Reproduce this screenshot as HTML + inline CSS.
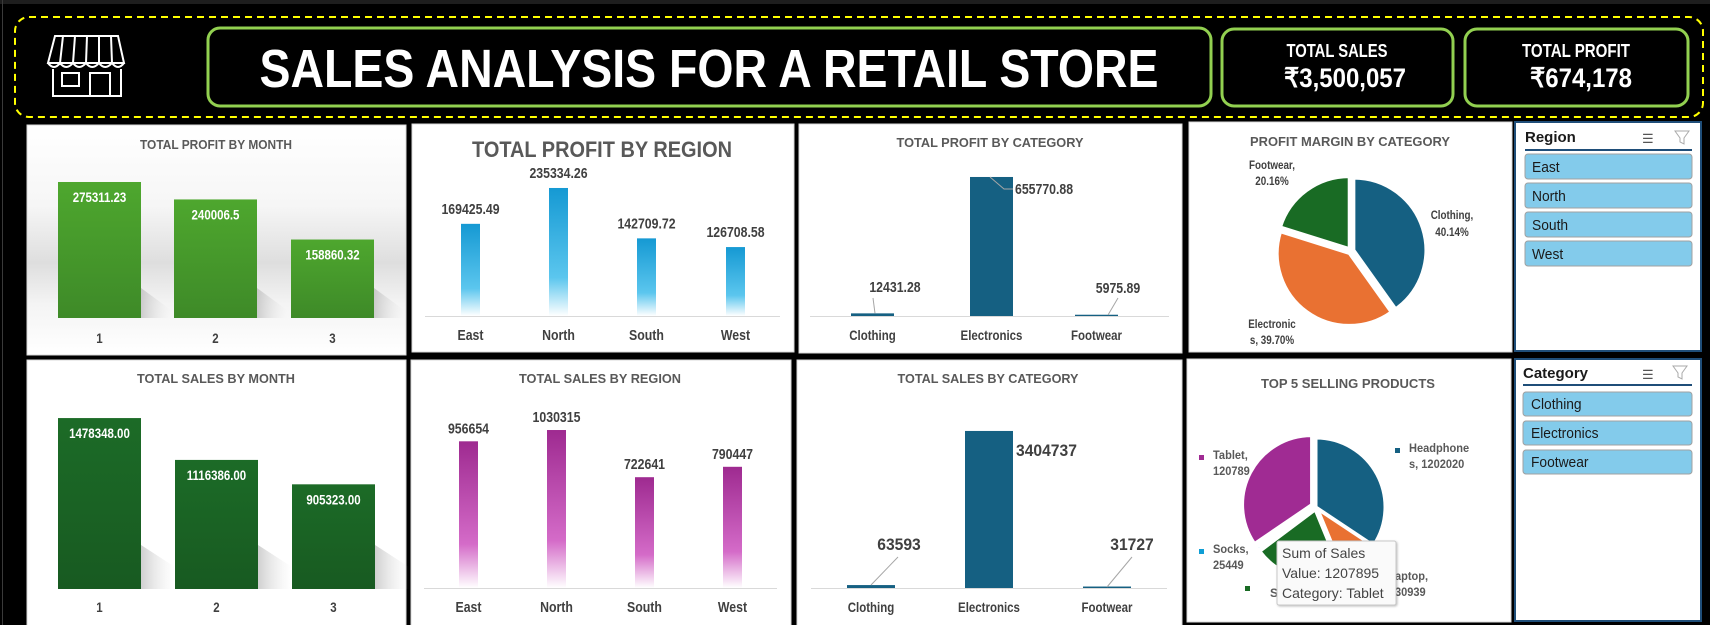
<!DOCTYPE html>
<html><head><meta charset="utf-8"><style>
html,body{margin:0;padding:0;background:#000;width:1710px;height:625px;overflow:hidden}
svg{display:block}
text{font-family:"Liberation Sans Narrow","Liberation Sans",sans-serif}
</style></head><body>
<svg id="root" width="1710" height="625" viewBox="0 0 1710 625" xmlns="http://www.w3.org/2000/svg">
<defs>
<linearGradient id="gBgMonth" x1="0" y1="0" x2="0" y2="1"><stop offset="0" stop-color="#fff"/><stop offset="0.35" stop-color="#f6f6f6"/><stop offset="0.6" stop-color="#dedede"/><stop offset="0.78" stop-color="#f4f4f4"/><stop offset="1" stop-color="#fff"/></linearGradient>
<linearGradient id="gGreen" x1="0" y1="0" x2="0" y2="1"><stop offset="0" stop-color="#4EA72E"/><stop offset="1" stop-color="#3E8A28"/></linearGradient>
<linearGradient id="gDkGreen" x1="0" y1="0" x2="0" y2="1"><stop offset="0" stop-color="#1C6B27"/><stop offset="1" stop-color="#185A21"/></linearGradient>
<linearGradient id="gBlue" x1="0" y1="0" x2="0" y2="1"><stop offset="0" stop-color="#1599D3"/><stop offset="0.7" stop-color="#5BC6EE"/><stop offset="1" stop-color="#ffffff"/></linearGradient>
<linearGradient id="gPurple" x1="0" y1="0" x2="0" y2="1"><stop offset="0" stop-color="#9E2A90"/><stop offset="0.7" stop-color="#D46BC8"/><stop offset="1" stop-color="#ffffff"/></linearGradient>
<linearGradient id="gShadow" x1="0" y1="0" x2="1" y2="0"><stop offset="0" stop-color="#b0b0b0" stop-opacity="0.6"/><stop offset="1" stop-color="#e0e0e0" stop-opacity="0"/></linearGradient>
</defs>
<rect x="0" y="0" width="1710" height="4" fill="#1e1e1e"/>
<rect x="2" y="0" width="1" height="625" fill="#3a3a3a"/>
<rect x="15" y="17" width="1688" height="100" rx="14" fill="none" stroke="#FFFF00" stroke-width="2" stroke-dasharray="7,5"/>
<g fill="none" stroke="#fff" stroke-width="2">
<path d="M55 36 H118 L124 63 H48 Z"/>
<path d="M48 63 q6 8 12 0 q6 8 13 0 q6 8 13 0 q6 8 13 0 q6 8 13 0 q6 8 12 0"/>
<path d="M63 36 L60 63 M75 36 L73 63 M87 36 L86 63 M99 36 L99 63 M111 36 L112 63"/>
<path d="M53 69 V96 H121 V69"/>
<rect x="62" y="73" width="17" height="13"/>
<rect x="90" y="73" width="20" height="23"/>
</g>
<rect x="208" y="28" width="1003" height="78" rx="12" fill="#000" stroke="#92D050" stroke-width="3"/>
<text x="709" y="87" text-anchor="middle" font-size="54" font-weight="bold" fill="#fff" textLength="899" lengthAdjust="spacingAndGlyphs">SALES ANALYSIS FOR A RETAIL STORE</text>
<rect x="1222" y="29" width="231" height="77" rx="12" fill="#000" stroke="#92D050" stroke-width="3"/>
<text x="1337" y="57" text-anchor="middle" font-size="18" font-weight="bold" fill="#fff" textLength="101" lengthAdjust="spacingAndGlyphs">TOTAL SALES</text>
<text x="1345" y="87" text-anchor="middle" font-size="27" font-weight="bold" fill="#fff" textLength="122" lengthAdjust="spacingAndGlyphs">₹3,500,057</text>
<rect x="1465" y="29" width="223" height="77" rx="12" fill="#000" stroke="#92D050" stroke-width="3"/>
<text x="1576" y="57" text-anchor="middle" font-size="18" font-weight="bold" fill="#fff" textLength="108" lengthAdjust="spacingAndGlyphs">TOTAL PROFIT</text>
<text x="1581" y="87" text-anchor="middle" font-size="27" font-weight="bold" fill="#fff" textLength="102" lengthAdjust="spacingAndGlyphs">₹674,178</text>
<rect x="27" y="125" width="379" height="230" fill="url(#gBgMonth)" stroke="#d9d9d9"/>
<rect x="412" y="124" width="382" height="228" fill="#fff" stroke="#d9d9d9"/>
<rect x="799" y="124" width="383" height="229" fill="#fff" stroke="#d9d9d9"/>
<rect x="1189" y="122" width="323" height="230" fill="#fff" stroke="#d9d9d9"/>
<rect x="27" y="360" width="379" height="270" fill="#fff" stroke="#d9d9d9"/>
<rect x="411" y="360" width="380" height="270" fill="#fff" stroke="#d9d9d9"/>
<rect x="797" y="360" width="385" height="270" fill="#fff" stroke="#d9d9d9"/>
<rect x="1187" y="359" width="324" height="263" fill="#fff" stroke="#d9d9d9"/>
<text x="216" y="149" text-anchor="middle" font-size="13" font-weight="bold" fill="#595959" textLength="152" lengthAdjust="spacingAndGlyphs">TOTAL PROFIT BY MONTH</text>
<text x="602" y="157" text-anchor="middle" font-size="22" font-weight="bold" fill="#595959" textLength="260" lengthAdjust="spacingAndGlyphs">TOTAL PROFIT BY REGION</text>
<text x="990" y="147" text-anchor="middle" font-size="13" font-weight="bold" fill="#595959" textLength="187" lengthAdjust="spacingAndGlyphs">TOTAL PROFIT BY CATEGORY</text>
<text x="1350" y="146" text-anchor="middle" font-size="13" font-weight="bold" fill="#595959" textLength="200" lengthAdjust="spacingAndGlyphs">PROFIT MARGIN BY CATEGORY</text>
<text x="216" y="383" text-anchor="middle" font-size="13" font-weight="bold" fill="#595959" textLength="158" lengthAdjust="spacingAndGlyphs">TOTAL SALES BY MONTH</text>
<text x="600" y="383" text-anchor="middle" font-size="13" font-weight="bold" fill="#595959" textLength="162" lengthAdjust="spacingAndGlyphs">TOTAL SALES BY REGION</text>
<text x="988" y="383" text-anchor="middle" font-size="13" font-weight="bold" fill="#595959" textLength="181" lengthAdjust="spacingAndGlyphs">TOTAL SALES BY CATEGORY</text>
<text x="1348" y="388" text-anchor="middle" font-size="13" font-weight="bold" fill="#595959" textLength="174" lengthAdjust="spacingAndGlyphs">TOP 5 SELLING PRODUCTS</text>
<g>
<rect x="1515" y="122" width="186" height="229" fill="#fff" stroke="#1F4E79" stroke-width="2"/>
<text x="1525" y="142" font-size="15" font-weight="bold" fill="#1a1a1a">Region</text>
<text x="1642" y="143" font-size="13" fill="#555">☰</text>
<path d="M1675 131 h14 l-5 7 v6 l-4 -2 v-4 z" fill="none" stroke="#aaa"/>
<rect x="1525" y="149" width="167" height="2" fill="#1F4E79"/>
</g>
<g>
<rect x="1515" y="359" width="186" height="262" fill="#fff" stroke="#1F4E79" stroke-width="2"/>
<text x="1523" y="378" font-size="15" font-weight="bold" fill="#1a1a1a">Category</text>
<text x="1642" y="379" font-size="13" fill="#555">☰</text>
<path d="M1673 366 h14 l-5 7 v6 l-4 -2 v-4 z" fill="none" stroke="#aaa"/>
<rect x="1523" y="384" width="169" height="2" fill="#1F4E79"/>
</g>
<g id="charts"></g>
</svg>
<script>
const months = ["1","2","3"];
const profitByMonth = [275311.23, 240006.5, 158860.32];
const profitMonthLabels = ["275311.23","240006.5","158860.32"];
const salesByMonth = [1478348.00, 1116386.00, 905323.00];
const salesMonthLabels = ["1478348.00","1116386.00","905323.00"];
const regions = ["East","North","South","West"];
const profitByRegion = [169425.49, 235334.26, 142709.72, 126708.58];
const profitRegionLabels = ["169425.49","235334.26","142709.72","126708.58"];
const salesByRegion = [956654, 1030315, 722641, 790447];
const salesRegionLabels = ["956654","1030315","722641","790447"];
const categories = ["Clothing","Electronics","Footwear"];
const profitByCategory = [12431.28, 655770.88, 5975.89];
const profitCategoryLabels = ["12431.28","655770.88","5975.89"];
const salesByCategory = [63593, 3404737, 31727];
const salesCategoryLabels = ["63593","3404737","31727"];
const marginCategories = ["Clothing","Electronics","Footwear"];
const marginValues = [40.14, 39.70, 20.16];
const products = ["Headphones","Laptop","Shoes","Socks","Tablet"];
const productSales = [1202020, 330939, 733754, 25449, 1207895];
const slicerRegions = ["East","North","South","West"];
const slicerCategories = ["Clothing","Electronics","Footwear"];

const NS = "http://www.w3.org/2000/svg";
const G = document.getElementById("charts");
function mk(tag, attrs, name, inter) {
  const el = document.createElementNS(NS, tag);
  for (const k in attrs) el.setAttribute(k, attrs[k]);
  
  
  G.appendChild(el);
  return el;
}
function txt(x, y, s, size, fill, name, anchor, weight, family, condense) {
  const el = mk("text", {x: x, y: y, "font-size": size, fill: fill, "text-anchor": anchor || "middle", "font-weight": weight || "bold"}, name, false);
  if (family) el.setAttribute("style", "font-family:" + family);
  el.textContent = s;
  const c = condense === undefined ? 0.82 : condense;
  if (c !== 1 && s.length) {
    const w = el.getComputedTextLength();
    if (w > 0) { el.setAttribute("textLength", (w * c).toFixed(1)); el.setAttribute("lengthAdjust", "spacingAndGlyphs"); }
  }
  return el;
}
function yScale(base, top, max) { return v => base - v / max * (base - top); }

(function () {
  const y = yScale(318, 169.8, 300000);
  const xs = [58, 174, 291], w = 83;
  profitByMonth.forEach((v, i) => {
    mk("polygon", {points: `${xs[i]+w},318 ${xs[i]+w+30},318 ${xs[i]+w+30},${318-8} ${xs[i]+w},${318-30}`, fill: "url(#gShadow)"}, "bar-shadow-month-" + months[i], false);
    mk("rect", {x: xs[i], y: y(v), width: w, height: 318 - y(v), fill: "url(#gGreen)"}, "profit-bar-month-" + months[i], true);
    txt(xs[i] + w / 2, y(v) + 20, profitMonthLabels[i], 14, "#fff", "profit-month-value-label");
    txt(xs[i] + w / 2, 343, months[i], 14, "#404040", "x-axis-label-month");
  });
})();
(function () {
  const y = yScale(316, 180, 250000);
  const xs = [461, 549, 637, 726], w = 19;
  mk("line", {x1: 425, y1: 316.5, x2: 780, y2: 316.5, stroke: "#d9d9d9"}, "x-axis-line", false);
  profitByRegion.forEach((v, i) => {
    mk("rect", {x: xs[i], y: y(v), width: w, height: 316 - y(v), fill: "url(#gBlue)"}, "profit-bar-" + regions[i].toLowerCase(), true);
    txt(xs[i] + w / 2, y(v) - 10, profitRegionLabels[i], 15, "#404040", "profit-region-value-label");
    txt(xs[i] + w / 2, 340, regions[i], 15, "#404040", "x-axis-label-region");
  });
})();
(function () {
  const y = yScale(316, 167.6, 700000);
  const xs = [851, 970, 1075], w = 43;
  mk("line", {x1: 810, y1: 316.5, x2: 1169, y2: 316.5, stroke: "#d9d9d9"}, "x-axis-line", false);
  profitByCategory.forEach((v, i) => {
    const top = Math.min(y(v), 315);
    mk("rect", {x: xs[i], y: top, width: w, height: 316 - top, fill: "#156082"}, "profit-bar-" + categories[i].toLowerCase(), true);
    txt(xs[i] + w / 2, 340, categories[i], 14, "#404040", "x-axis-label-category");
  });
  txt(1015, 194, profitCategoryLabels[1], 15, "#404040", "profit-category-value-label", "start");
  mk("polyline", {points: `${990},${y(profitByCategory[1])} 1004,189 1013,189`, fill: "none", stroke: "#a6a6a6"}, "leader-line", false);
  txt(895, 292, profitCategoryLabels[0], 15, "#404040", "profit-category-value-label");
  mk("line", {x1: 873, y1: 298, x2: 875, y2: y(profitByCategory[0]), stroke: "#a6a6a6"}, "leader-line", false);
  txt(1118, 293, profitCategoryLabels[2], 15, "#404040", "profit-category-value-label");
  mk("line", {x1: 1118, y1: 298, x2: 1108, y2: 315, stroke: "#a6a6a6"}, "leader-line", false);
})();
function pie(cx, cy, r, vals, colors, explode, namePrefix, names) {
  const tot = vals.reduce((a, b) => a + b, 0);
  let a0 = 0;
  vals.forEach((v, i) => {
    const a1 = a0 + v / tot * Math.PI * 2;
    const mid = (a0 + a1) / 2, e = explode[i];
    const ox = cx + e * Math.sin(mid), oy = cy - e * Math.cos(mid);
    const x0 = ox + r * Math.sin(a0), y0 = oy - r * Math.cos(a0);
    const x1 = ox + r * Math.sin(a1), y1 = oy - r * Math.cos(a1);
    const large = (a1 - a0) > Math.PI ? 1 : 0;
    mk("path", {d: `M${ox},${oy} L${x0},${y0} A${r},${r} 0 ${large} 1 ${x1},${y1} Z`, fill: colors[i], stroke: "#fff", "stroke-width": 3}, namePrefix + names[i].toLowerCase(), true);
    a0 = a1;
  });
}
(function () {
  pie(1351, 251, 72, marginValues, ["#156082", "#E97132", "#196B24"], [3, 3, 3], "pie-slice-", marginCategories);
  txt(1452, 219, marginCategories[0] + ",", 12, "#404040", "pie-label-clothing");
  txt(1452, 236, marginValues[0].toFixed(2) + "%", 12, "#404040", "pie-label-clothing-value");
  txt(1272, 328, "Electronic", 12, "#404040", "pie-label-electronics");
  txt(1272, 344, "s, " + marginValues[1].toFixed(2) + "%", 12, "#404040", "pie-label-electronics-value");
  txt(1272, 169, marginCategories[2] + ",", 12, "#404040", "pie-label-footwear");
  txt(1272, 185, marginValues[2].toFixed(2) + "%", 12, "#404040", "pie-label-footwear-value");
})();
(function () {
  const y = yScale(589, 404, 1600000);
  const xs = [58, 175, 292], w = 83;
  salesByMonth.forEach((v, i) => {
    mk("polygon", {points: `${xs[i]+w},589 ${xs[i]+w+34},589 ${xs[i]+w+34},${589-22} ${xs[i]+w},${589-44}`, fill: "url(#gShadow)"}, "bar-shadow-month-" + months[i], false);
    mk("rect", {x: xs[i], y: y(v), width: w, height: 589 - y(v), fill: "url(#gDkGreen)"}, "sales-bar-month-" + months[i], true);
    txt(xs[i] + w / 2, y(v) + 20, salesMonthLabels[i], 14, "#fff", "sales-month-value-label");
    txt(xs[i] + w / 2, 612, months[i], 14, "#404040", "x-axis-label-month");
  });
})();
(function () {
  const y = yScale(588, 404, 1200000);
  const xs = [459, 547, 635, 723], w = 19;
  mk("line", {x1: 424, y1: 588.5, x2: 777, y2: 588.5, stroke: "#d9d9d9"}, "x-axis-line", false);
  salesByRegion.forEach((v, i) => {
    mk("rect", {x: xs[i], y: y(v), width: w, height: 588 - y(v), fill: "url(#gPurple)"}, "sales-bar-" + regions[i].toLowerCase(), true);
    txt(xs[i] + w / 2, y(v) - 8, salesRegionLabels[i], 15, "#404040", "sales-region-value-label");
    txt(xs[i] + w / 2, 612, regions[i], 15, "#404040", "x-axis-label-region");
  });
})();
(function () {
  const y = yScale(588, 403.5, 4000000);
  const xs = [847, 965, 1083], w = 48;
  mk("line", {x1: 811, y1: 588.5, x2: 1167, y2: 588.5, stroke: "#d9d9d9"}, "x-axis-line", false);
  salesByCategory.forEach((v, i) => {
    const top = Math.min(y(v), 587);
    mk("rect", {x: xs[i], y: top, width: w, height: 588 - top, fill: "#156082"}, "sales-bar-" + categories[i].toLowerCase(), true);
    txt(xs[i] + w / 2, 612, categories[i], 14, "#404040", "x-axis-label-category");
  });
  txt(1016, 456, salesCategoryLabels[1], 17, "#404040", "sales-category-value-label", "start", "bold", "'Liberation Sans',sans-serif", 0.92);
  txt(899, 550, salesCategoryLabels[0], 17, "#404040", "sales-category-value-label", "middle", "bold", "'Liberation Sans',sans-serif", 0.92);
  mk("line", {x1: 898, y1: 557, x2: 871, y2: 585, stroke: "#a6a6a6"}, "leader-line", false);
  txt(1132, 550, salesCategoryLabels[2], 17, "#404040", "sales-category-value-label", "middle", "bold", "'Liberation Sans',sans-serif", 0.92);
  mk("line", {x1: 1132, y1: 557, x2: 1107, y2: 587, stroke: "#a6a6a6"}, "leader-line", false);
})();
(function () {
  const cols = ["#156082", "#E97132", "#196B24", "#0F9ED5", "#A02B93"];
  pie(1316, 507, 69, productSales, cols, [0, 3, 3, 3, 5], "product-slice-", products);
  const lab = (x, y, c, l1, l2, nm) => {
    mk("rect", {x: x, y: y - 4, width: 5, height: 5, fill: c}, "legend-key-" + nm, false);
    if (l1) txt(x + 14, y, l1, 12, "#595959", "product-label-" + nm, "start", "bold", null, 0.92);
    if (l2) txt(x + 14, y + 16, l2, 12, "#595959", "product-value-" + nm, "start", "bold", null, 0.92);
  };
  lab(1395, 452, cols[0], "Headphone", "s, " + productSales[0], "headphones");
  lab(1199, 459, cols[4], "Tablet,", String(productSales[4]).slice(0, 6), "tablet");
  lab(1199, 553, cols[3], "Socks,", String(productSales[3]), "socks");
  lab(1245, 590, cols[2], "", "", "shoes");
  txt(1395, 580, "aptop,", 12, "#595959", "product-label-laptop", "start", "bold", null, 0.92);
  txt(1395, 596, String(productSales[1]).slice(1), 12, "#595959", "product-value-laptop", "start", "bold", null, 0.92);
  txt(1270, 597, "S", 12, "#595959", "product-label-shoes-partial", "start", "bold", null, 1);
  const tip = mk("rect", {x: 1277, y: 541, width: 119, height: 64, rx: 2, fill: "#fafafa", stroke: "#c8c8c8"}, "tooltip", false);
  tip.setAttribute("style", "filter:drop-shadow(1px 1px 1px rgba(0,0,0,0.25))");
  txt(1282, 558, "Sum of Sales", 14, "#444", "tooltip-series", "start", "normal", "'Liberation Sans',sans-serif", 1);
  txt(1282, 578, "Value: " + productSales[4], 14, "#444", "tooltip-value", "start", "normal", "'Liberation Sans',sans-serif", 1);
  txt(1282, 598, "Category: " + products[4], 14, "#444", "tooltip-category", "start", "normal", "'Liberation Sans',sans-serif", 1);
})();
slicerRegions.forEach((r, i) => {
  const y0 = 154 + i * 29;
  mk("rect", {x: 1525, y: y0, width: 167, height: 25, rx: 3, fill: "#83CBEB", stroke: "#a0a0a0"}, "region-slicer-" + r.toLowerCase(), true);
  txt(1532, y0 + 18, r, 15, "#1a1a1a", "region-slicer-text", "start", "normal", null, 0.92);
});
slicerCategories.forEach((c, i) => {
  const y0 = 392 + i * 29;
  mk("rect", {x: 1523, y: y0, width: 169, height: 24, rx: 3, fill: "#83CBEB", stroke: "#a0a0a0"}, "category-slicer-" + c.toLowerCase(), true);
  txt(1531, y0 + 17, c, 15, "#1a1a1a", "category-slicer-text", "start", "normal", null, 0.92);
});
</script>
</body></html>
